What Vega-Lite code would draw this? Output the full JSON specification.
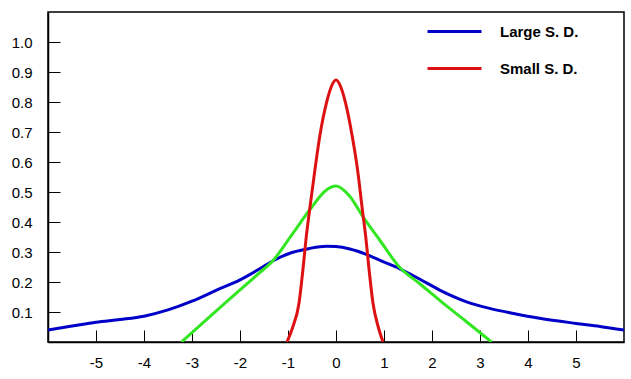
{
  "$schema": "https://vega.github.io/schema/vega-lite/v6.json",
  "width": 576,
  "height": 330,
  "autosize": "none",
  "padding": {"left": 48, "top": 12, "right": 7, "bottom": 37},
  "background": "white",
  "config": {
    "view": {"stroke": "black", "strokeWidth": 1.5},
    "font": "Liberation Sans"
  },
  "data": {
    "values": [
      {"series": "Large S. D.", "x": -6, "y": 0.04},
      {"series": "Large S. D.", "x": -5.5, "y": 0.053},
      {"series": "Large S. D.", "x": -5, "y": 0.066},
      {"series": "Large S. D.", "x": -4.5, "y": 0.075},
      {"series": "Large S. D.", "x": -4, "y": 0.086},
      {"series": "Large S. D.", "x": -3.5, "y": 0.107},
      {"series": "Large S. D.", "x": -3, "y": 0.136},
      {"series": "Large S. D.", "x": -2.5, "y": 0.172},
      {"series": "Large S. D.", "x": -2, "y": 0.207},
      {"series": "Large S. D.", "x": -1.59, "y": 0.244},
      {"series": "Large S. D.", "x": -1.31, "y": 0.271},
      {"series": "Large S. D.", "x": -0.9, "y": 0.299},
      {"series": "Large S. D.", "x": -0.55, "y": 0.312},
      {"series": "Large S. D.", "x": -0.2, "y": 0.319},
      {"series": "Large S. D.", "x": 0, "y": 0.318},
      {"series": "Large S. D.", "x": 0.29, "y": 0.31},
      {"series": "Large S. D.", "x": 0.63, "y": 0.292},
      {"series": "Large S. D.", "x": 0.98, "y": 0.268},
      {"series": "Large S. D.", "x": 1.33, "y": 0.244},
      {"series": "Large S. D.", "x": 1.74, "y": 0.21},
      {"series": "Large S. D.", "x": 2.16, "y": 0.173},
      {"series": "Large S. D.", "x": 2.72, "y": 0.134},
      {"series": "Large S. D.", "x": 3.2, "y": 0.112},
      {"series": "Large S. D.", "x": 3.7, "y": 0.095},
      {"series": "Large S. D.", "x": 4.24, "y": 0.079},
      {"series": "Large S. D.", "x": 5, "y": 0.062},
      {"series": "Large S. D.", "x": 5.5, "y": 0.052},
      {"series": "Large S. D.", "x": 6, "y": 0.04},
      {"series": "Medium S. D.", "x": -3.22, "y": 0},
      {"series": "Medium S. D.", "x": -2.5, "y": 0.103},
      {"series": "Medium S. D.", "x": -2, "y": 0.174},
      {"series": "Medium S. D.", "x": -1.59, "y": 0.231},
      {"series": "Medium S. D.", "x": -1.31, "y": 0.272},
      {"series": "Medium S. D.", "x": -0.9, "y": 0.362},
      {"series": "Medium S. D.", "x": -0.55, "y": 0.44},
      {"series": "Medium S. D.", "x": -0.2, "y": 0.507},
      {"series": "Medium S. D.", "x": 0, "y": 0.52},
      {"series": "Medium S. D.", "x": 0.29, "y": 0.485},
      {"series": "Medium S. D.", "x": 0.56, "y": 0.418},
      {"series": "Medium S. D.", "x": 0.91, "y": 0.34},
      {"series": "Medium S. D.", "x": 1.33, "y": 0.248},
      {"series": "Medium S. D.", "x": 1.74, "y": 0.195},
      {"series": "Medium S. D.", "x": 2.16, "y": 0.139},
      {"series": "Medium S. D.", "x": 2.7, "y": 0.07},
      {"series": "Medium S. D.", "x": 3.24, "y": 0},
      {"series": "Small S. D.", "x": -1.02, "y": 0},
      {"series": "Small S. D.", "x": -0.9, "y": 0.05},
      {"series": "Small S. D.", "x": -0.77, "y": 0.13},
      {"series": "Small S. D.", "x": -0.69, "y": 0.24},
      {"series": "Small S. D.", "x": -0.62, "y": 0.35},
      {"series": "Small S. D.", "x": -0.55, "y": 0.44},
      {"series": "Small S. D.", "x": -0.44, "y": 0.573},
      {"series": "Small S. D.", "x": -0.34, "y": 0.684},
      {"series": "Small S. D.", "x": -0.2, "y": 0.796},
      {"series": "Small S. D.", "x": -0.1, "y": 0.85},
      {"series": "Small S. D.", "x": 0, "y": 0.873},
      {"series": "Small S. D.", "x": 0.1, "y": 0.85},
      {"series": "Small S. D.", "x": 0.2, "y": 0.796},
      {"series": "Small S. D.", "x": 0.34, "y": 0.684},
      {"series": "Small S. D.", "x": 0.45, "y": 0.573},
      {"series": "Small S. D.", "x": 0.55, "y": 0.44},
      {"series": "Small S. D.", "x": 0.62, "y": 0.35},
      {"series": "Small S. D.", "x": 0.69, "y": 0.24},
      {"series": "Small S. D.", "x": 0.77, "y": 0.13},
      {"series": "Small S. D.", "x": 0.88, "y": 0.05},
      {"series": "Small S. D.", "x": 0.98, "y": 0}
    ]
  },
  "mark": {"type": "line", "interpolate": "monotone", "strokeWidth": 3, "clip": true},
  "encoding": {
    "x": {
      "field": "x", "type": "quantitative",
      "scale": {"domain": [-6, 6], "nice": false, "zero": false},
      "axis": {
        "title": null, "grid": false, "values": [-5, -4, -3, -2, -1, 0, 1, 2, 3, 4, 5],
        "labelExpr": "replace(datum.label, '\u2212', '-')",
        "tickSize": -12, "tickColor": "black", "tickWidth": 1,
        "domainColor": "black", "domainWidth": 1.5,
        "labelFontSize": 15, "labelColor": "black", "labelPadding": 25, "labelFont": "Liberation Sans"
      }
    },
    "y": {
      "field": "y", "type": "quantitative",
      "scale": {"domain": [0, 1.1], "nice": false},
      "axis": {
        "title": null, "grid": false, "values": [0.1, 0.2, 0.3, 0.4, 0.5, 0.6, 0.7, 0.8, 0.9, 1.0],
        "format": ".1f",
        "tickSize": -12, "tickColor": "black", "tickWidth": 1,
        "domainColor": "black", "domainWidth": 1.5,
        "labelFontSize": 15, "labelColor": "black", "labelPadding": 28, "labelFont": "Liberation Sans"
      }
    },
    "color": {
      "field": "series", "type": "nominal",
      "scale": {"domain": ["Large S. D.", "Small S. D.", "Medium S. D."], "range": ["#0000c8", "#dd1111", "#33e622"]},
      "legend": {
        "values": ["Large S. D.", "Small S. D."],
        "title": null, "orient": "none", "legendX": 378, "legendY": -9,
        "symbolType": "stroke", "symbolSize": 2916, "symbolStrokeWidth": 3,
        "labelFontSize": 15, "labelFontWeight": "bold", "labelColor": "black", "labelFont": "Liberation Sans",
        "labelOffset": 17, "rowPadding": 0
      }
    }
  }
}
